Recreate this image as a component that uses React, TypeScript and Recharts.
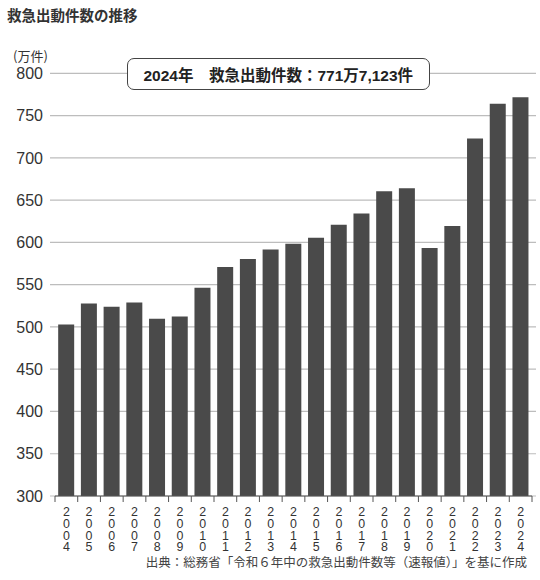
import { Bar, BarChart, CartesianGrid, XAxis, YAxis } from 'recharts';

const years = [
  '2004', '2005', '2006', '2007', '2008', '2009', '2010', '2011', '2012', '2013', '2014',
  '2015', '2016', '2017', '2018', '2019', '2020', '2021', '2022', '2023', '2024',
];
// 救急出動件数（万件）
const dispatches = [
  502.9, 527.8, 523.8, 529.0, 509.8, 512.2, 546.4, 570.8, 580.2, 591.6, 598.5,
  605.5, 621.0, 634.2, 660.5, 664.0, 593.3, 619.4, 723.0, 763.9, 771.7,
];
const yTicks = [300, 350, 400, 450, 500, 550, 600, 650, 700, 750, 800];

const data = years.map((year, i) => ({ year, count: dispatches[i] }));

const JP = "'Noto Sans CJK JP', sans-serif";
const NUM = "'Liberation Sans', 'Noto Sans CJK JP', sans-serif";

// 年ラベルは数字を1文字ずつ縦に並べる
const YearTick = ({ x, y, payload, index }: any) => {
  const off = payload.offset || 0;
  return (
    <g>
      <line x1={x - off} y1={y} x2={x + off} y2={y} stroke="#555" strokeWidth={1} />
      <line x1={x - off} y1={y} x2={x - off} y2={y + 6} stroke="#555" strokeWidth={1} />
      {index === years.length - 1 && (
        <line x1={x + off} y1={y} x2={x + off} y2={y + 6} stroke="#555" strokeWidth={1} />
      )}
      {String(payload.value)
        .split('')
        .map((d, i) => (
          <text
            key={i}
            x={x}
            y={y + 20.2 + i * 11.7}
            textAnchor="middle"
            fontSize={12.4}
            fill="#333"
            fontFamily={NUM}
          >
            {d}
          </text>
        ))}
    </g>
  );
};

const App = () => {
  return (
    <div style={{ position: 'absolute', left: 0, top: 0, width: 540, height: 580, background: '#fff' }}>
      <BarChart
        width={540}
        height={580}
        data={data}
        margin={{ top: 73.3, right: 4, left: 0, bottom: 0 }}
        barCategoryGap="14%"
      >
        <CartesianGrid vertical={false} stroke="#bdbdbd" strokeWidth={1.2} />
        <XAxis
          dataKey="year"
          height={84}
          padding={{ left: 5, right: 4 }}
          axisLine={false}
          tickLine={false}
          tickSize={0}
          tickMargin={0}
          interval={0}
          tick={<YearTick />}
        />
        <YAxis
          width={50}
          domain={[300, 800]}
          ticks={yTicks}
          allowDataOverflow
          axisLine={false}
          tickLine={false}
          tickSize={0}
          tickMargin={7}
          tick={{ fontSize: 16, fill: '#333', fontFamily: NUM }}
        />
        <Bar dataKey="count" fill="#4a4a4a" isAnimationActive={false} />
      </BarChart>

      <div
        style={{
          position: 'absolute', left: 7, top: 5, fontFamily: JP, fontSize: 14.5,
          fontWeight: 700, color: '#333', lineHeight: '20px', whiteSpace: 'nowrap',
        }}
      >
        救急出動件数の推移
      </div>
      <div
        style={{
          position: 'absolute', left: 13, top: 47, fontFamily: JP, fontSize: 13,
          color: '#333', lineHeight: '18px', whiteSpace: 'nowrap',
        }}
      >
        (万件)
      </div>
      <div
        style={{
          position: 'absolute', left: 126.5, top: 58.3, width: 303.5, height: 31.7,
          boxSizing: 'border-box', border: '1.2px solid #444', borderRadius: 7,
          background: '#fff', display: 'flex', alignItems: 'center', justifyContent: 'center',
          fontFamily: NUM, fontSize: 15.5, fontWeight: 700, color: '#222', whiteSpace: 'nowrap',
        }}
      >
        2024年　救急出動件数：771万7,123件
      </div>
      <div
        style={{
          position: 'absolute', right: 13, top: 553, fontFamily: JP, fontSize: 12.5,
          color: '#444', lineHeight: '18px', whiteSpace: 'nowrap',
        }}
      >
        出典：総務省「令和６年中の救急出動件数等（速報値）」を基に作成
      </div>
    </div>
  );
};

export default App;
